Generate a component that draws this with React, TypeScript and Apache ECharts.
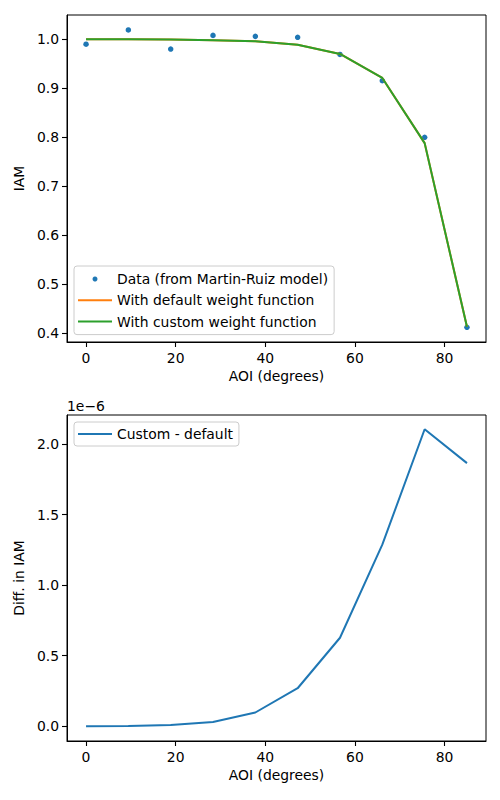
import React, { useEffect, useRef } from "react";
import * as echarts from "echarts";

// Angle of incidence (degrees)
const AOI = [0, 9.44, 18.89, 28.33, 37.78, 47.22, 56.67, 66.11, 75.56, 85];
// Data points (from Martin-Ruiz model)
const IAM_DATA = [0.99, 1.019, 0.98, 1.008, 1.006, 1.004, 0.969, 0.9155, 0.8, 0.412];
// Fitted with default weight function
const IAM_DEFAULT = [1.0, 1.0, 0.9995, 0.998, 0.996, 0.989, 0.97, 0.921, 0.788, 0.413];
// Fitted with custom weight function
const IAM_CUSTOM = [1.0, 1.0, 0.9995, 0.998, 0.996, 0.989, 0.97, 0.921, 0.788, 0.413];
// Custom - default, in units of 1e-6
const DIFF_E6 = [0.0, 0.002, 0.009, 0.03, 0.097, 0.269, 0.627, 1.287, 2.105, 1.865];

const X_TICKS = [0, 20, 40, 60, 80];
const Y1_TICKS = [0.4, 0.5, 0.6, 0.7, 0.8, 0.9, 1.0];
const Y2_TICKS = [0, 0.5, 1.0, 1.5, 2.0];

const FONT = "DejaVu Sans";
const FS = 13.9;
const C0 = "#1f77b4";
const C1 = "#ff7f0e";
const C2 = "#2ca02c";

const pairs = (xs: number[], ys: number[]) => xs.map((x, i) => [x, ys[i]]);

export default function App() {
  const ref = useRef<HTMLDivElement>(null);
  useEffect(() => {
    if (!ref.current) return;
    const chart = echarts.init(ref.current, undefined, { renderer: "svg" });
    const xAxisCommon = (gridIndex: number) => ({
      type: "value" as const,
      gridIndex,
      min: -4.25,
      max: 89.25,
      name: "AOI (degrees)",
      nameLocation: "middle" as const,
      nameGap: 27,
      nameTextStyle: { fontFamily: FONT, fontSize: FS, color: "#000" },
      axisLine: { show: true, onZero: false, lineStyle: { color: "#000", width: 1 } },
      splitLine: { show: false },
      axisTick: { show: true, inside: false, length: 5, customValues: X_TICKS, lineStyle: { color: "#000", width: 1.1 } },
      axisLabel: {
        customValues: X_TICKS,
        margin: 9,
        fontFamily: FONT,
        fontSize: FS,
        color: "#000",
        formatter: (v: number) => String(v),
      },
    });
    const yAxisCommon = (gridIndex: number, min: number, max: number, ticks: number[], name: string) => ({
      type: "value" as const,
      gridIndex,
      min,
      max,
      name,
      nameLocation: "middle" as const,
      nameGap: 38,
      nameTextStyle: { fontFamily: FONT, fontSize: FS, color: "#000" },
      axisLine: { show: true, onZero: false, lineStyle: { color: "#000", width: 1 } },
      splitLine: { show: false },
      axisTick: { show: true, inside: false, length: 5, customValues: ticks, lineStyle: { color: "#000", width: 1.1 } },
      axisLabel: {
        customValues: ticks,
        margin: 8,
        fontFamily: FONT,
        fontSize: FS,
        color: "#000",
        formatter: (v: number) => v.toFixed(1),
      },
    });
    const legendCommon = {
      orient: "vertical" as const,
      itemWidth: 34,
      itemHeight: 5,
      itemGap: 5.3,
      backgroundColor: "rgba(255,255,255,0.8)",
      borderColor: "#cccccc",
      borderWidth: 1,
      borderRadius: 3,
      textStyle: { fontFamily: FONT, fontSize: FS, color: "#000", lineHeight: 16 },
    };
    chart.setOption({
      animation: false,
      backgroundColor: "#fff",
      grid: [
        { left: 67, top: 15, width: 419, height: 327, show: true, borderColor: "#000", borderWidth: 1, backgroundColor: "transparent" },
        { left: 67, top: 415, width: 419, height: 326, show: true, borderColor: "#000", borderWidth: 1, backgroundColor: "transparent" },
      ],
      xAxis: [xAxisCommon(0), xAxisCommon(1)],
      yAxis: [
        yAxisCommon(0, 0.382, 1.0496, Y1_TICKS, "IAM"),
        yAxisCommon(1, -0.105, 2.206, Y2_TICKS, "Diff. in IAM"),
      ],
      legend: [
        {
          ...legendCommon,
          left: 74,
          top: 266,
          padding: [5, 6, 5, 3],
          data: [
            { name: "Data (from Martin-Ruiz model)", icon: "circle" },
            { name: "With default weight function", itemStyle: { opacity: 0 } },
            { name: "With custom weight function", itemStyle: { opacity: 0 } },
          ],
        },
        {
          ...legendCommon,
          left: 74,
          top: 422,
          padding: [4, 6, 4, 3],
          data: [{ name: "Custom - default", itemStyle: { opacity: 0 } }],
        },
      ],
      graphic: [
        {
          type: "text",
          left: 67,
          top: 399,
          style: { text: "1e\u22126", fontFamily: FONT, fontSize: FS, fill: "#000" },
        },
      ],
      series: [
        {
          name: "Data (from Martin-Ruiz model)",
          type: "scatter",
          xAxisIndex: 0,
          yAxisIndex: 0,
          symbol: "circle",
          symbolSize: 5.5,
          itemStyle: { color: C0, opacity: 1 },
          data: pairs(AOI, IAM_DATA),
        },
        {
          name: "With default weight function",
          type: "line",
          xAxisIndex: 0,
          yAxisIndex: 0,
          symbol: "none",
          lineStyle: { color: C1, width: 2 },
          itemStyle: { color: C1 },
          data: pairs(AOI, IAM_DEFAULT),
        },
        {
          name: "With custom weight function",
          type: "line",
          xAxisIndex: 0,
          yAxisIndex: 0,
          symbol: "none",
          lineStyle: { color: C2, width: 2 },
          itemStyle: { color: C2 },
          data: pairs(AOI, IAM_CUSTOM),
        },
        {
          name: "Custom - default",
          type: "line",
          xAxisIndex: 1,
          yAxisIndex: 1,
          symbol: "none",
          lineStyle: { color: C0, width: 2 },
          itemStyle: { color: C0 },
          data: pairs(AOI, DIFF_E6),
        },
      ],
    });
    return () => chart.dispose();
  }, []);
  return (
    <div
      ref={ref}
      style={{ position: "absolute", left: 0, top: 0, width: 500, height: 800, background: "#fff" }}
    />
  );
}
